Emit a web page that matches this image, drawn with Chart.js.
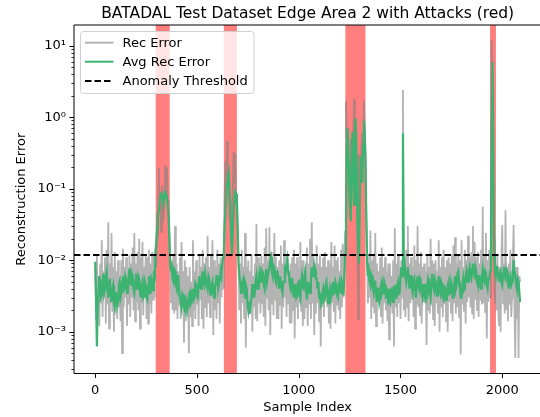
<!DOCTYPE html>
<html>
<head>
<meta charset="utf-8">
<script src="https://cdn.jsdelivr.net/npm/chart.js@4.4.1/dist/chart.umd.min.js"></script>
<style>
  html, body { margin: 0; padding: 0; background: #fff; }
  #wrap { width: 540px; height: 417px; }
</style>
</head>
<body>
<div id="wrap"><canvas id="recChart" width="540" height="417"></canvas></div>
<script>
// Reconstruction error, one value every 4 samples, in units of 1e-3
const STEP = 4;
const recErrMilli = [
  8, 1.5, 12, 2.2, 6, 1.2, 9, 2.5, 19, 1.6, 7, 3, 11, 1.3, 14, 2.4,
  34, 1.1, 9, 2.5, 24, 1.9, 8, 1.0, 13, 2.8, 7, 1.5, 10, 2.2, 6, 1.4,
  10, 0.5, 14.5, 2.2, 8, 3, 11, 1.2, 7, 2.4, 12, 1.6, 9, 3, 15, 2.0,
  24, 1.4, 9, 2.6, 13, 2, 20, 1.1, 11, 2.5, 18, 1.7, 8, 3, 12, 1.5,
  11, 1.3, 14, 2.4, 9, 1.8, 13, 2.8, 12, 3, 15, 8, 45, 20, 194, 60,
  60, 25, 110, 35, 40, 90, 213, 80, 200, 60, 70, 30, 10, 2.5, 9, 2.0,
  12, 1.8, 30, 2, 9, 1.5, 7, 2.4, 11, 1.5, 18, 2.6, 7, 0.7, 10, 1.4,
  8, 2.5, 6, 0.5, 8, 1.6, 5, 1.2, 19, 2, 7, 1.5, 10, 2.4, 6, 1.2,
  12, 2.8, 8, 1.5, 14, 1.1, 9, 2.2, 11, 1.6, 22, 2.5, 8, 1.6, 12, 3,
  19, 0.9, 10, 2, 8, 1.5, 14, 2.6, 9, 1.3, 11, 3, 9, 4, 20, 90,
  240, 60, 470, 100, 150, 40, 70, 25, 50, 90, 330, 120, 310, 60, 80, 15,
  12, 2, 9, 1.3, 14, 2.5, 8, 1.5, 24, 0.6, 8, 2.2, 10, 1.8, 7, 2.6,
  12, 1.0, 6, 2.2, 9, 1.5, 32, 1.4, 11, 2.5, 8, 1.8, 12, 2.5, 9, 1.6,
  15, 1.2, 28, 3, 10, 2, 29, 0.9, 13, 2.4, 9, 1.7, 24, 2.8, 11, 1.5,
  8, 1.5, 10, 2.4, 16, 1.1, 9, 2.2, 19, 3, 8, 1.6, 12, 2.5, 7, 1.3,
  9, 1.3, 11, 2, 14, 0.8, 9, 2.2, 11, 1.5, 8, 2.5, 18, 1.9, 10, 1.2,
  10, 1.5, 8, 2.2, 15, 1.2, 9, 2.4, 20, 1.5, 34, 2.5, 12, 0.9, 9, 1.8,
  16, 2.5, 9, 1.4, 12, 0.62, 8, 2.2, 11, 1.6, 13, 2.6, 8, 2.2, 10, 1.3,
  9, 1.1, 18, 2.6, 8, 1.9, 16, 1.3, 10, 2.4, 11, 2, 7, 1.5, 14, 2.2,
  17, 3, 10, 25, 1700, 500, 300, 120, 80, 40, 500, 200, 250, 600, 1800, 400,
  700, 150, 40, 1.5, 300, 90, 150, 400, 600, 300, 1700, 800, 300, 40, 12, 2.5,
  8, 3, 26, 1.5, 10, 2.2, 12, 1.8, 24, 1.2, 9, 2.6, 7, 2.4, 11, 1.6,
  15, 1.3, 8, 2.5, 11, 2, 7, 1.4, 9, 0.78, 9, 2.2, 6, 1.8, 10, 0.62,
  28, 2.2, 9, 1.6, 12, 2.5, 8, 1.5, 10, 3, 2400, 2.0, 9, 1.6, 14, 2.2,
  30, 1.4, 9, 2.5, 11, 2.8, 8, 1.6, 16, 1.1, 10, 2.4, 30, 2.2, 9, 1.7,
  13, 1.3, 8, 2.6, 9, 2.5, 7, 0.65, 12, 2, 8, 1.8, 20, 2.4, 10, 1.5,
  9, 1.2, 10, 2.5, 7, 1.8, 19, 1.0, 8, 2.2, 11, 1.6, 14, 2.5, 8, 1.4,
  10, 1.0, 11, 2.6, 9, 1.8, 12, 1.4, 16, 2.5, 21, 1.8, 9, 2.2, 12, 1.6,
  10, 0.48, 19, 2.4, 8, 1.9, 14, 1.3, 10, 2.6, 22, 3, 11, 2.2, 13, 1.8,
  30, 1.5, 18, 2.8, 11, 2, 13, 1.6, 9, 2.7, 14, 2.4, 56, 2.5, 12, 1.9,
  24, 0.8, 10, 2.6, 14, 3, 30, 11800, 3000, 100, 20, 2.5, 9, 2, 12, 2.2,
  1.2, 8, 1.0, 12, 31, 2.5, 9, 1.8, 50, 2, 8, 1.4, 9, 2.4, 14, 1.6,
  3, 10, 31, 2, 0.43, 8, 1.5, 8, 0.43, 6, 5
];
const avgErrMilli = [
  9.5, 3, 0.62, 2, 3.5, 6, 5, 3, 3.2, 5, 6.5, 3.5, 4, 6, 7, 4,
  3, 5, 5.5, 3.2, 2.6, 4, 4.5, 2.5, 2.2, 3.5, 3.5, 2.4, 2.8, 4.5, 5, 3,
  3.5, 5, 6, 3.8, 4, 6, 5.5, 3.5, 3.5, 5.5, 7.7, 5, 4.5, 6.5, 6, 4,
  3.5, 5, 6.5, 4, 4, 6, 5.5, 3.5, 3, 4.5, 5, 3, 3.2, 5, 4.5, 3,
  2.8, 4.5, 6, 3.5, 3.5, 5.5, 5, 3.8, 7, 5, 12, 18, 28, 40, 50, 62,
  75, 85, 91, 70, 60, 75, 88, 82, 75, 60, 40, 20, 9, 7, 8, 5.5,
  5, 7.5, 7, 4.5, 4, 6, 6, 3.5, 3.5, 2.6, 2.2, 3.4, 3.2, 2.2, 2, 3,
  2.8, 2, 2.4, 3.2, 3.5, 2.4, 2.6, 3.8, 4, 2.8, 3, 4.8, 4.5, 3.2, 3, 4.5,
  6, 4.2, 4, 5.5, 7, 5, 4.5, 6.5, 6.5, 4.5, 4, 6, 5.5, 3.8, 3.2, 4.5,
  5, 3.5, 3, 4.5, 4.5, 6, 6, 4, 4, 5.5, 7, 6, 9, 11, 14, 30,
  50, 80, 120, 150, 170, 100, 40, 20, 12, 25, 50, 70, 90, 85, 70, 30,
  9, 6, 5, 3.5, 3.5, 5, 5.5, 3.8, 3, 4.5, 4, 2.5, 2, 2.6, 1.8, 2.5,
  3, 4.5, 4.5, 3, 3.5, 5, 6, 4, 4, 6, 7, 5, 5, 7, 6.5, 4.5,
  4, 6, 7.5, 5, 5, 7, 8, 10, 11, 7, 6, 8.5, 8, 5.5, 5, 7,
  7, 5, 4, 6, 6, 4, 3.5, 5, 5, 7.5, 7, 9, 10.5, 7, 6, 4.5,
  4, 5.5, 5.5, 3.5, 3, 4.5, 4.5, 3, 3.2, 4.8, 5, 3.5, 3, 5, 6, 4.2,
  4, 6, 7, 4, 2.8, 4, 5, 3.5, 3.5, 6, 8, 6, 6, 8.5, 7.5, 5.5,
  5.5, 4, 5, 3, 3.5, 2.4, 2.6, 3.5, 4, 2.8, 3, 4.5, 5, 3.4, 2.5, 3.5,
  4, 2.8, 3.2, 4.5, 5, 3.4, 3.5, 5, 4.5, 3.2, 3, 4.5, 5, 3.6, 3.5, 5,
  4.5, 3.2, 6, 12, 40, 300, 700, 350, 150, 60, 35, 200, 620, 250, 60, 400,
  960, 300, 40, 15, 9, 60, 280, 200, 120, 400, 900, 600, 250, 40, 9, 6,
  7, 5, 4.5, 6.5, 6, 4, 3.5, 5, 5, 3.5, 2.6, 4, 4, 2.6, 3, 4.5,
  5, 3.4, 3.5, 5, 4.5, 3, 3, 4, 2.4, 3.4, 4, 2.8, 3.2, 4.2, 2.6, 3.5,
  4.5, 3, 3, 4.5, 5, 3.4, 3.5, 5.5, 8, 6, 590, 8, 9, 6, 5, 7,
  8, 5.5, 4, 6, 6, 4, 3.5, 5, 5.5, 4, 3, 4.5, 6, 4.5, 4, 5.5,
  5, 3.4, 3, 4.5, 4.5, 3, 2.8, 4, 3.5, 5.5, 5, 3.5, 3, 4.8, 6.5, 4.5,
  4, 5.5, 5, 3.5, 3.2, 4.8, 6, 4, 3.5, 5, 4.5, 3, 2.8, 4.2, 4, 2.8,
  3, 4.5, 5, 3.4, 3.5, 5, 4.5, 3, 3, 4.5, 6, 4, 4.5, 6.5, 7, 5,
  4, 3, 3, 4.5, 5.5, 3.8, 4, 6, 7, 5, 5, 7, 8, 6, 5.5, 7.5,
  9, 6.5, 6, 8, 7, 5, 4.5, 6, 6, 4.2, 4, 6, 7.5, 5.5, 5, 7,
  6.5, 4.5, 4, 5.5, 5.5, 7, 8, 300, 5900, 400, 12, 7, 6, 8, 8, 6,
  5, 6.5, 7, 5, 4.5, 6.5, 8, 6, 5.5, 7.5, 7, 5, 4, 5.5, 6, 4.5,
  5, 7, 10, 7, 6, 4.5, 4, 5.5, 5, 3.5, 2.6
];
const threshold = 0.0118;
const attackWindows = [[297, 366], [632, 696], [1229, 1328], [1940, 1969]];
const xTicks = [0, 500, 1000, 1500, 2000];
const yMajorTicks = [1e-3, 1e-2, 1e-1, 1e0, 1e1];
const yTickLabels = ["10\u207B\u00B3", "10\u207B\u00B2", "10\u207B\u00B9", "10\u2070", "10\u00B9"];

const X_MIN = -104.4, X_MAX = 2185.5;
const Y_MIN = 2.6e-4, Y_MAX = 19.5;
const FONT = "DejaVu Sans";

const toPoints = (arr) => arr.map((v, i) => ({ x: i * STEP, y: v / 1000 }));

// minor log ticks 2..9 in every decade inside the axis range
const yMinorTicks = [];
for (let e = -4; e <= 1; e++) {
  for (let m = 2; m <= 9; m++) {
    const v = m * Math.pow(10, e);
    if (v > Y_MIN && v < Y_MAX) yMinorTicks.push(v);
  }
}

const decorations = {
  id: "decorations",
  beforeDatasetsDraw(chart) {
    const { ctx, chartArea: a, scales: { x } } = chart;
    ctx.save();
    ctx.fillStyle = "rgba(255,0,0,0.5)";
    attackWindows.forEach(([s, e]) => {
      const x0 = x.getPixelForValue(s), x1 = x.getPixelForValue(e);
      ctx.fillRect(x0, a.top, x1 - x0, a.bottom - a.top);
    });
    ctx.restore();
  },
  afterDatasetsDraw(chart) {
    const { ctx, chartArea: a, scales: { x, y } } = chart;
    ctx.save();
    ctx.strokeStyle = "#000";
    ctx.lineWidth = 1;
    // frame (right side sits just past the canvas edge)
    ctx.beginPath();
    ctx.moveTo(a.right + 2, a.top);
    ctx.lineTo(a.left, a.top);
    ctx.lineTo(a.left, a.bottom);
    ctx.lineTo(a.right + 2, a.bottom);
    ctx.stroke();
    // tick marks
    ctx.beginPath();
    xTicks.forEach(v => {
      const px = Math.round(x.getPixelForValue(v)) + 0.5;
      ctx.moveTo(px, a.bottom);
      ctx.lineTo(px, a.bottom + 4.6);
    });
    yMajorTicks.forEach(v => {
      const py = Math.round(y.getPixelForValue(v)) + 0.5;
      ctx.moveTo(a.left, py);
      ctx.lineTo(a.left - 4.6, py);
    });
    ctx.stroke();
    ctx.lineWidth = 0.8;
    ctx.beginPath();
    yMinorTicks.forEach(v => {
      const py = Math.round(y.getPixelForValue(v)) + 0.5;
      ctx.moveTo(a.left, py);
      ctx.lineTo(a.left - 2.6, py);
    });
    ctx.stroke();
    ctx.restore();
  },
  afterDraw(chart) {
    const { ctx, chartArea: a } = chart;
    ctx.save();
    ctx.fillStyle = "#000";
    ctx.textAlign = "center";
    ctx.textBaseline = "middle";
    ctx.font = "15.5px '" + FONT + "'";
    ctx.fillText("BATADAL Test Dataset Edge Area 2 with Attacks (red)", (a.left + 541.4) / 2, 13.5);
    ctx.font = "13px '" + FONT + "'";
    ctx.fillText("Sample Index", (a.left + 541.4) / 2, 407.5);
    ctx.save();
    ctx.translate(22, (a.top + a.bottom) / 2);
    ctx.rotate(-Math.PI / 2);
    ctx.fillText("Reconstruction Error", 0, 0);
    ctx.restore();

    // legend box
    const bx = 80.5, by = 31.5, bw = 173.5, bh = 62;
    ctx.beginPath();
    ctx.roundRect(bx, by, bw, bh, 3);
    ctx.fillStyle = "rgba(255,255,255,0.8)";
    ctx.fill();
    ctx.strokeStyle = "#d0d0d0";
    ctx.lineWidth = 1;
    ctx.stroke();
    const rows = [
      { label: "Rec Error", color: "rgba(128,128,128,0.6)", width: 2, dash: [] },
      { label: "Avg Rec Error", color: "#3cb371", width: 2, dash: [] },
      { label: "Anomaly Threshold", color: "#000", width: 2, dash: [6.5, 3] }
    ];
    const rowY = [42.7, 61.7, 81];
    rows.forEach((r, i) => {
      ctx.beginPath();
      ctx.setLineDash(r.dash);
      ctx.strokeStyle = r.color;
      ctx.lineWidth = r.width;
      ctx.moveTo(85, rowY[i]);
      ctx.lineTo(113.5, rowY[i]);
      ctx.stroke();
      ctx.setLineDash([]);
      ctx.fillStyle = "#000";
      ctx.textAlign = "left";
      ctx.fillText(r.label, 122.5, rowY[i] + 0.5);
    });
    ctx.restore();
  }
};

const ctx = document.getElementById("recChart");
const recChart = new Chart(ctx.getContext("2d"), {
  type: "line",
  data: {
    datasets: [
      {
        label: "Rec Error",
        data: toPoints(recErrMilli),
        borderColor: "rgba(128,128,128,0.6)",
        borderWidth: 1.8,
        pointRadius: 0,
        order: 3
      },
      {
        label: "Avg Rec Error",
        data: toPoints(avgErrMilli),
        borderColor: "#3cb371",
        borderWidth: 2.2,
        pointRadius: 0,
        order: 2
      },
      {
        label: "Anomaly Threshold",
        data: [{ x: X_MIN, y: threshold }, { x: X_MAX, y: threshold }],
        borderColor: "#000",
        borderWidth: 2,
        borderDash: [6.5, 3],
        pointRadius: 0,
        order: 1
      }
    ]
  },
  options: {
    responsive: false,
    animation: false,
    devicePixelRatio: 1,
    layout: { padding: { top: 25, left: 0, right: 0, bottom: 0 } },
    plugins: {
      legend: { display: false },
      title: { display: false },
      tooltip: { enabled: false }
    },
    elements: { line: { tension: 0 } },
    scales: {
      x: {
        type: "linear",
        min: X_MIN,
        max: X_MAX,
        afterBuildTicks: (s) => { s.ticks = xTicks.map(v => ({ value: v })); },
        afterFit: (s) => { s.height = 43.5; },
        grid: { display: false, drawTicks: false },
        border: { display: false },
        ticks: {
          color: "#000",
          font: { family: FONT, size: 13 },
          padding: 9,
          maxRotation: 0,
          autoSkip: false,
          callback: (v) => String(v)
        }
      },
      y: {
        type: "logarithmic",
        min: Y_MIN,
        max: Y_MAX,
        afterBuildTicks: (s) => { s.ticks = yMajorTicks.map(v => ({ value: v })); },
        afterFit: (s) => { s.width = 74; },
        grid: { display: false, drawTicks: false },
        border: { display: false },
        ticks: {
          color: "#000",
          font: { family: FONT, size: 13 },
          padding: 8,
          autoSkip: false,
          callback: (v) => {
            const i = yMajorTicks.findIndex(t => Math.abs(Math.log10(t) - Math.log10(v)) < 1e-6);
            return i >= 0 ? yTickLabels[i] : "";
          }
        }
      }
    }
  },
  plugins: [decorations]
});
</script>
</body>
</html>
